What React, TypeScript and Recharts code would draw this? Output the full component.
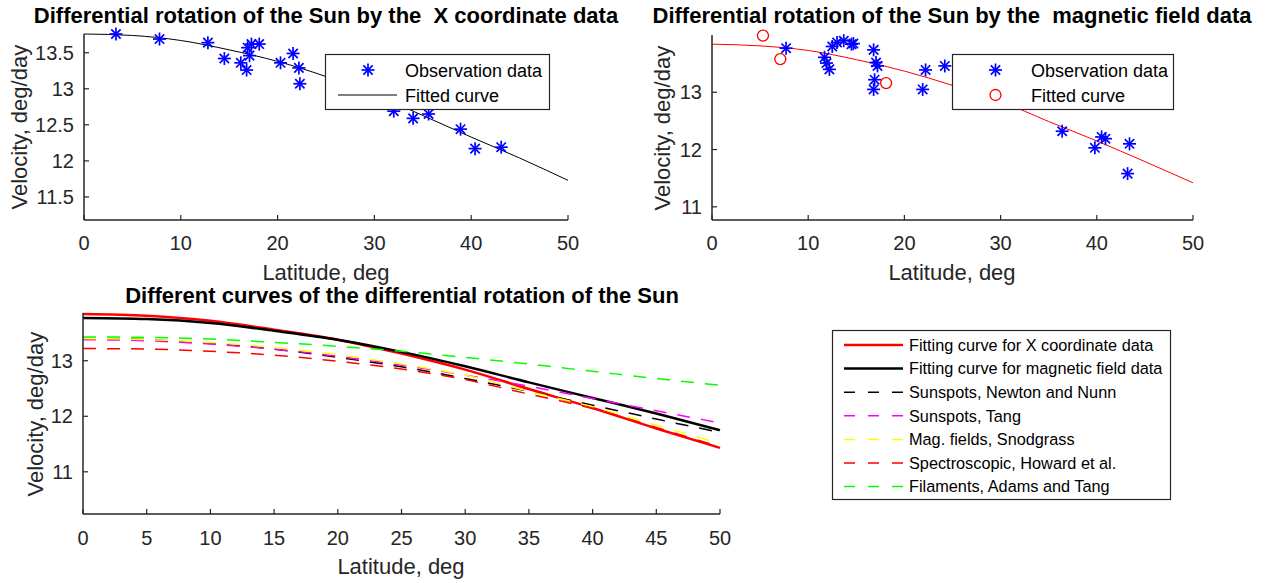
import {ComposedChart, LineChart, Line, Scatter, XAxis, YAxis} from "recharts";

// tick labels
const coarseLatTicks = [0, 10, 20, 30, 40, 50];
const fineLatTicks = [0, 5, 10, 15, 20, 25, 30, 35, 40, 45, 50];
const xCoordVelTicks = [11.5, 12, 12.5, 13, 13.5];
const magVelTicks = [11, 12, 13];
const compareVelTicks = [11, 12, 13];

const curveLat = [0, 5, 10, 15, 20, 25, 30, 35, 40, 45, 50];

// top left: X coordinate data
const xObsLat = [3.3, 7.8, 12.8, 14.5, 16.2, 16.8, 16.9, 17.1, 17.3, 18.1, 20.3, 21.6, 22.2, 22.3, 32.0, 34.0, 35.6, 38.9, 40.4, 43.1];
const xObsVel = [13.76, 13.69, 13.64, 13.42, 13.36, 13.26, 13.57, 13.46, 13.62, 13.62, 13.36, 13.49, 13.29, 13.07, 12.69, 12.59, 12.65, 12.44, 12.17, 12.19];
const xFitVel = [13.76, 13.74, 13.67, 13.54, 13.38, 13.17, 12.92, 12.63, 12.33, 12.04, 11.73];

// top right: magnetic field data
const magObsLat = [7.7, 11.7, 11.9, 12.2, 12.5, 13.0, 13.7, 14.5, 14.7, 16.8, 17.05, 17.2, 16.9, 16.8, 21.9, 22.2, 24.2, 36.4, 39.8, 40.5, 40.9, 43.4, 43.2];
const magObsVel = [13.77, 13.61, 13.51, 13.40, 13.80, 13.87, 13.90, 13.84, 13.85, 13.74, 13.52, 13.46, 13.22, 13.05, 13.05, 13.39, 13.46, 12.32, 12.03, 12.22, 12.19, 12.10, 11.58];
const magCircleLat = [5.3, 7.1, 18.1];
const magCircleVel = [13.99, 13.58, 13.16];
const magFitVel = [13.84, 13.81, 13.73, 13.57, 13.37, 13.12, 12.84, 12.49, 12.15, 11.79, 11.42];

// bottom: comparison of curves
const fitRedVel = [13.84, 13.81, 13.72, 13.56, 13.38, 13.13, 12.84, 12.49, 12.15, 11.78, 11.43];
const fitBlackVel = [13.77, 13.75, 13.68, 13.54, 13.38, 13.16, 12.90, 12.61, 12.33, 12.05, 11.75];
const newtonNunnVel = [13.40, 13.38, 13.31, 13.21, 13.06, 12.89, 12.68, 12.45, 12.20, 11.95, 11.71];
const tangVel = [13.38, 13.36, 13.30, 13.21, 13.08, 12.92, 12.74, 12.54, 12.32, 12.10, 11.88];
const snodgrassVel = [13.40, 13.38, 13.33, 13.24, 13.11, 12.94, 12.74, 12.45, 12.17, 11.84, 11.51];
const howardVel = [13.22, 13.21, 13.17, 13.10, 12.99, 12.85, 12.66, 12.40, 12.14, 11.80, 11.45];
const adamsTangVel = [13.43, 13.42, 13.39, 13.33, 13.26, 13.17, 13.06, 12.94, 12.81, 12.68, 12.56];

const zip = (lat: number[], vel: number[]) => lat.map((l, i) => ({lat: l, v: vel[i]}));

const compareSeries = [
    {key: 'fitRed', name: 'Fitting curve for X coordinate data', values: fitRedVel, color: '#ff0000', dash: false},
    {key: 'fitBlack', name: 'Fitting curve for magnetic field data', values: fitBlackVel, color: '#000000', dash: false},
    {key: 'newton', name: 'Sunspots, Newton and Nunn', values: newtonNunnVel, color: '#000000', dash: true},
    {key: 'tang', name: 'Sunspots, Tang', values: tangVel, color: '#ff00ff', dash: true},
    {key: 'snodgrass', name: 'Mag. fields, Snodgrass', values: snodgrassVel, color: '#ffff00', dash: true},
    {key: 'howard', name: 'Spectroscopic, Howard et al.', values: howardVel, color: '#ff0000', dash: true},
    {key: 'adams', name: 'Filaments, Adams and Tang', values: adamsTangVel, color: '#00ff00', dash: true},
];

const compareRows = curveLat.map((lat, i) => {
    const row: Record<string, number> = {lat};
    compareSeries.forEach(s => { row[s.key] = s.values[i]; });
    return row;
});

const FONT = '"Liberation Sans", Arial, Helvetica, sans-serif';
const AXIS = '#262626';
const DASH = '13 11';

function Star({cx, cy, r = 6.5}: {cx: number, cy: number, r?: number}) {
    const d = r * 0.72;
    return (
        <g stroke="#0000ff" strokeWidth={1.7}>
            <line x1={cx - r} y1={cy} x2={cx + r} y2={cy}/>
            <line x1={cx} y1={cy - r} x2={cx} y2={cy + r}/>
            <line x1={cx - d} y1={cy - d} x2={cx + d} y2={cy + d}/>
            <line x1={cx - d} y1={cy + d} x2={cx + d} y2={cy - d}/>
        </g>
    );
}

function Ring({cx, cy}: {cx: number, cy: number}) {
    return <circle cx={cx} cy={cy} r={5.5} fill="none" stroke="#ff0000" strokeWidth={1.3}/>;
}

function Txt({x, y, size, bold, rotate, color = AXIS, children}: any) {
    const h = size * 1.2;
    return (
        <div style={{
            position: 'absolute', left: x - 400, top: y - h / 2, width: 800, height: h, lineHeight: `${h}px`,
            textAlign: 'center', fontSize: size, fontWeight: bold ? 700 : 400, color, whiteSpace: 'pre',
            transform: rotate ? 'rotate(-90deg)' : undefined, transformOrigin: 'center',
        }}>{children}</div>
    );
}

const tickStyle = {fill: AXIS, fontSize: 20};
const axisLine = {stroke: AXIS, strokeWidth: 1.5};
const tickLine = {stroke: AXIS, strokeWidth: 1.2};

export default function App() {
    return (
        <div style={{position: 'absolute', left: 0, top: 0, width: 1267, height: 583, background: '#fff', fontFamily: FONT, overflow: 'hidden'}}>
            {/* top left */}
            <div style={{position: 'absolute', left: 0, top: 0}}>
                <ComposedChart width={620} height={290} margin={{top: 34, right: 52, bottom: 0, left: 0}}>
                    <XAxis dataKey="lat" type="number" domain={[0, 50]} ticks={coarseLatTicks} interval={0}
                           height={70} tick={tickStyle} axisLine={axisLine} tickLine={tickLine} tickSize={-5} tickMargin={21}/>
                    <YAxis type="number" domain={[11.18, 13.76]} ticks={xCoordVelTicks} interval={0}
                           width={84} tick={tickStyle} axisLine={axisLine} tickLine={tickLine} tickSize={-5} tickMargin={15}/>
                    <Line data={zip(curveLat, xFitVel)} dataKey="v" type="monotone" stroke="#000" strokeWidth={1}
                          dot={false} activeDot={false} isAnimationActive={false}/>
                    <Scatter data={zip(xObsLat, xObsVel)} dataKey="v" isAnimationActive={false}
                             shape={(p: any) => <Star cx={p.cx} cy={p.cy}/>}/>
                </ComposedChart>
            </div>
            <svg style={{position: 'absolute', left: 0, top: 0}} width={1267} height={583} pointerEvents="none">
                {/* top left legend */}
                <rect x={325.5} y={54.5} width={224} height={55} fill="#fff" stroke={AXIS} strokeWidth={1.2}/>
                <Star cx={368} cy={70}/>
                <text x={405} y={77} fontSize={18} fill="#000" fontFamily={FONT}>Observation data</text>
                <line x1={338} y1={95} x2={397} y2={95} stroke="#000" strokeWidth={1}/>
                <text x={405} y={101.5} fontSize={18} fill="#000" fontFamily={FONT}>Fitted curve</text>
            </svg>

            {/* top right */}
            <div style={{position: 'absolute', left: 628, top: 0}}>
                <ComposedChart width={620} height={290} margin={{top: 35, right: 55, bottom: 0, left: 0}}>
                    <XAxis dataKey="lat" type="number" domain={[0, 50]} ticks={coarseLatTicks} interval={0}
                           height={70} tick={tickStyle} axisLine={axisLine} tickLine={tickLine} tickSize={-5} tickMargin={21}/>
                    <YAxis type="number" domain={[10.77, 14.0]} ticks={magVelTicks} interval={0}
                           width={84} tick={tickStyle} axisLine={axisLine} tickLine={tickLine} tickSize={-5} tickMargin={15}/>
                    <Line data={zip(curveLat, magFitVel)} dataKey="v" type="monotone" stroke="#ff0000" strokeWidth={1}
                          dot={false} activeDot={false} isAnimationActive={false}/>
                    <Scatter data={zip(magObsLat, magObsVel)} dataKey="v" isAnimationActive={false}
                             shape={(p: any) => <Star cx={p.cx} cy={p.cy}/>}/>
                    <Scatter data={zip(magCircleLat, magCircleVel)} dataKey="v" isAnimationActive={false}
                             shape={(p: any) => <Ring cx={p.cx} cy={p.cy}/>}/>
                </ComposedChart>
            </div>

            {/* bottom */}
            <div style={{position: 'absolute', left: 0, top: 290}}>
                <LineChart width={760} height={293} data={compareRows} margin={{top: 23, right: 40, bottom: 0, left: 0}}>
                    <XAxis dataKey="lat" type="number" domain={[0, 50]} ticks={fineLatTicks} interval={0}
                           height={69} tick={tickStyle} axisLine={axisLine} tickLine={tickLine} tickSize={-5} tickMargin={22}/>
                    <YAxis type="number" domain={[10.24, 13.86]} ticks={compareVelTicks} interval={0}
                           width={83} tick={tickStyle} axisLine={axisLine} tickLine={tickLine} tickSize={-5} tickMargin={15}/>
                    {compareSeries.map(s => (
                        <Line key={s.key} dataKey={s.key} name={s.name} type="monotone" stroke={s.color}
                              strokeWidth={s.dash ? 1.5 : 2.5} strokeDasharray={s.dash ? DASH : undefined}
                              dot={false} activeDot={false} isAnimationActive={false}/>
                    ))}
                </LineChart>
            </div>

            <svg style={{position: 'absolute', left: 0, top: 0}} width={1267} height={583} pointerEvents="none">
                {/* top right legend */}
                <rect x={952.5} y={54.5} width={221} height={55} fill="#fff" stroke={AXIS} strokeWidth={1.2}/>
                <Star cx={995.5} cy={70}/>
                <text x={1031} y={77} fontSize={18} fill="#000" fontFamily={FONT}>Observation data</text>
                <Ring cx={995.5} cy={95}/>
                <text x={1031} y={101.5} fontSize={18} fill="#000" fontFamily={FONT}>Fitted curve</text>

                {/* bottom legend */}
                <rect x={832.5} y={330.5} width={338} height={169} fill="#fff" stroke={AXIS} strokeWidth={1.2}/>
                {compareSeries.map((s, i) => {
                    const y = 345 + i * 23.6;
                    return (
                        <g key={s.key}>
                            <line x1={844} y1={y} x2={903} y2={y} stroke={s.color} strokeWidth={s.dash ? 1.5 : 2.5}
                                  strokeDasharray={s.dash ? '11 13' : undefined}/>
                            <text x={909} y={y + 5.8} fontSize={16.3} fill="#000" fontFamily={FONT}>{s.name}</text>
                        </g>
                    );
                })}
            </svg>

            <Txt x={326} y={16} size={22} bold color="#000">{'Differential rotation of the Sun by the  X coordinate data'}</Txt>
            <Txt x={952} y={16} size={22} bold color="#000">{'Differential rotation of the Sun by the  magnetic field data'}</Txt>
            <Txt x={402} y={296} size={22} bold color="#000">Different curves of the differential rotation of the Sun</Txt>

            <Txt x={326} y={273} size={22}>Latitude, deg</Txt>
            <Txt x={952} y={273} size={22}>Latitude, deg</Txt>
            <Txt x={401} y={567} size={22}>Latitude, deg</Txt>

            <Txt x={20} y={127} size={22} rotate>Velocity, deg/day</Txt>
            <Txt x={663} y={128} size={22} rotate>Velocity, deg/day</Txt>
            <Txt x={36} y={414} size={22} rotate>Velocity, deg/day</Txt>
        </div>
    );
}
